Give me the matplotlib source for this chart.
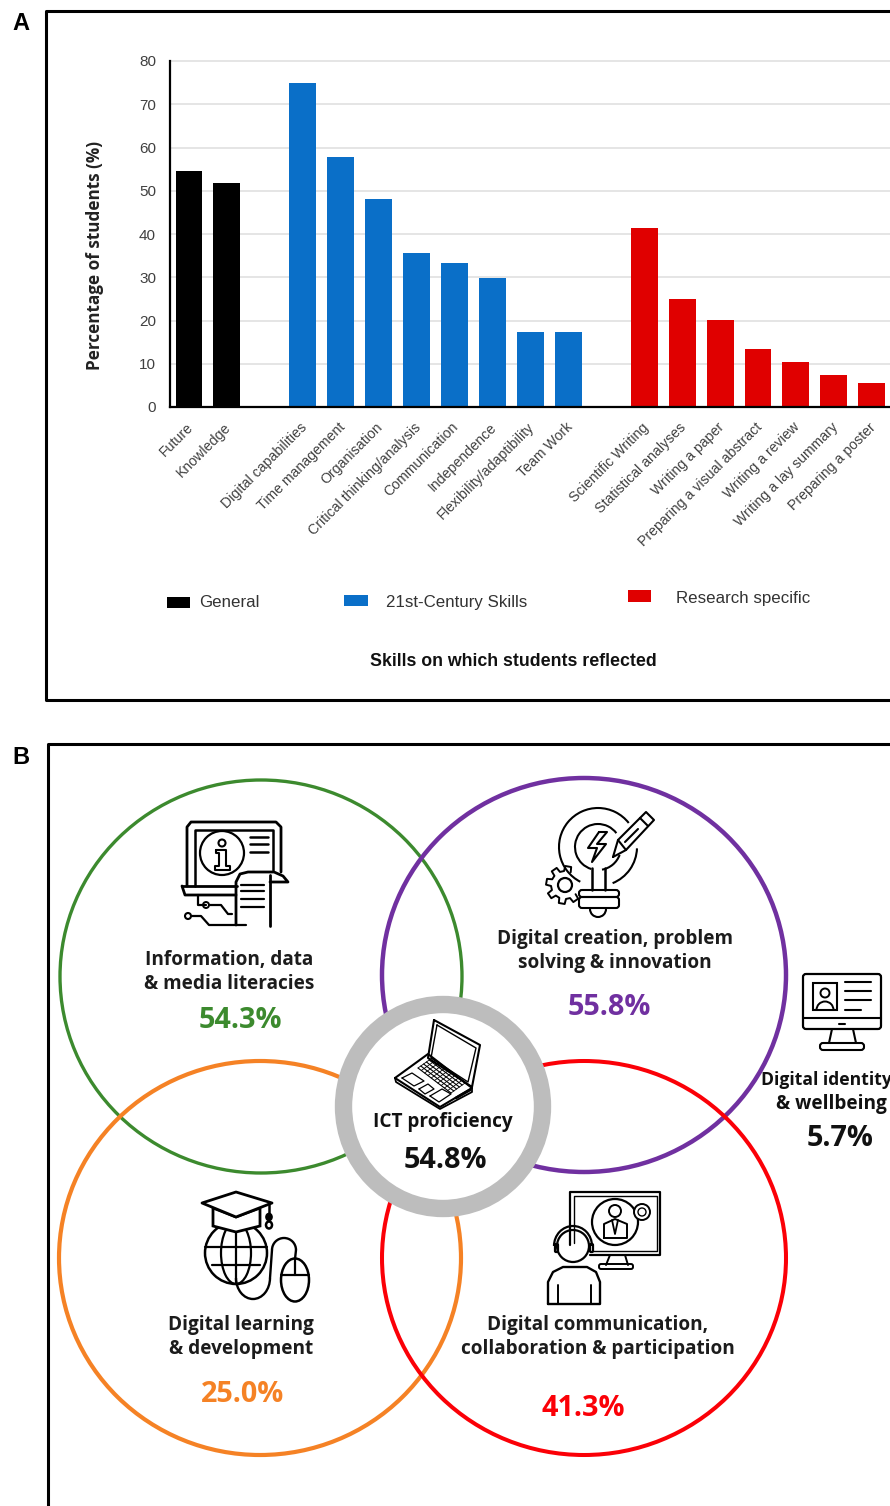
import numpy as np
import matplotlib
matplotlib.use('Agg')
import matplotlib.pyplot as plt
from matplotlib.patches import Rectangle, FancyBboxPatch, Ellipse, Arc, Polygon, Circle

general_labels = ['Future', 'Knowledge']
general_values = [54.6, 51.9]
skills_labels = ['Digital capabilities', 'Time management', 'Organisation', 'Critical thinking/analysis',
                 'Communication', 'Independence', 'Flexibility/adaptibility', 'Team Work']
skills_values = [75.0, 57.7, 48.0, 35.7, 33.4, 29.9, 17.4, 17.4]
research_labels = ['Scientific Writing', 'Statistical analyses', 'Writing a paper', 'Preparing a visual abstract',
                   'Writing a review', 'Writing a lay summary', 'Preparing a poster']
research_values = [41.3, 24.9, 20.1, 13.4, 10.3, 7.5, 5.5]
legend_names = ['General', '21st-Century Skills', 'Research specific']
bar_colors = ['#000000', '#0a6fc8', '#e00000']
y_ticks = [0, 10, 20, 30, 40, 50, 60, 70, 80]

area_titles = ['Information, data\n& media literacies', 'Digital creation, problem\nsolving & innovation',
               'Digital learning\n& development', 'Digital communication,\ncollaboration & participation']
area_pcts = ['54.3%', '55.8%', '25.0%', '41.3%']
area_colors = ['#3c8a2e', '#7030a0', '#f58225', '#fb0007']

W, H = 890, 1506
fig = plt.figure(figsize=(W / 100, H / 100), dpi=100)

# overlay in pixel coordinates for frames, legend and the venn panel
bg = fig.add_axes([0, 0, 1, 1])
bg.set_xlim(0, W)
bg.set_ylim(H, 0)
bg.axis('off')

ax = fig.add_axes([170 / W, 1 - 407 / H, (W - 170) / W, (407 - 61) / H])
ax.patch.set_alpha(0)
x_gen = np.arange(len(general_values))
x_ski = x_gen[-1] + 2 + np.arange(len(skills_values))
x_res = x_ski[-1] + 2 + np.arange(len(research_values))
ax.bar(x_gen, general_values, width=0.71, color=bar_colors[0], zorder=3)
ax.bar(x_ski, skills_values, width=0.71, color=bar_colors[1], zorder=3)
ax.bar(x_res, research_values, width=0.71, color=bar_colors[2], zorder=3)
ax.set_xlim(-0.5, 18.48)
ax.set_ylim(0, 80)
ax.set_yticks(y_ticks)
ax.tick_params(axis='y', length=0, pad=10, labelsize=11, labelcolor='#404040', labelfontfamily='Liberation Sans')
ax.set_xticks(np.concatenate([x_gen, x_ski, x_res]) + 0.05)
ax.set_xticklabels(general_labels + skills_labels + research_labels, rotation=45, ha='right', va='center',
                   rotation_mode='anchor', fontsize=10.2, color='#404040', family='Liberation Sans')
ax.tick_params(axis='x', length=0, pad=13)
ax.grid(axis='y', color='#dedede', lw=1.1, zorder=0)
for gl in ax.get_ygridlines():
    gl.set_clip_on(False)
for s in ['top', 'right']:
    ax.spines[s].set_visible(False)
for s in ['left', 'bottom']:
    ax.spines[s].set_linewidth(1.6)
    ax.spines[s].set_zorder(5)


def pl(pts, lw=1.5, color='k', closed=False):
    pts = list(pts)
    if closed:
        pts = pts + [pts[0]]
    bg.plot([p[0] for p in pts], [p[1] for p in pts], color=color, lw=lw, solid_capstyle='round',
            solid_joinstyle='round', zorder=6)


def circ(x, y, r, lw=1.5, ec='k', fc='none', z=6):
    bg.add_patch(Circle((x, y), r, ec=ec, fc=fc, lw=lw, zorder=z))


def ring(x0, x1, y0, y1, lw, ec, fc='none', z=2):
    bg.add_patch(Ellipse(((x0 + x1) / 2, (y0 + y1) / 2), x1 - x0, y1 - y0, ec=ec, fc=fc, lw=lw, zorder=z))


def rbox(x0, y0, x1, y1, rad=3, lw=1.5, fc='none'):
    bg.add_patch(FancyBboxPatch((x0, y0), x1 - x0, y1 - y0, boxstyle='round,pad=0,rounding_size=%s' % rad,
                                ec='k', fc=fc, lw=lw, zorder=6))


def arc(x, y, w, h, a0, a1, lw=1.5):
    # angles run clockwise on screen because the y axis is inverted
    bg.add_patch(Arc((x, y), w, h, theta1=a0, theta2=a1, ec='k', lw=lw, zorder=6))


# frames and panel letters
pl([(W + 5, 11), (46, 11), (46, 700), (W + 5, 700)], lw=2.2)
pl([(W + 5, 744), (48, 744), (48, H + 5)], lw=2.2)
bg.text(21, 23, 'A', fontsize=17, fontweight='bold', family='Liberation Sans', ha='center', va='center')
bg.text(21, 757, 'B', fontsize=17, fontweight='bold', family='Liberation Sans', ha='center', va='center')

# axis titles
bg.text(95, 255, 'Percentage of students (%)', rotation=90, fontsize=12.3, fontweight='bold', family='Open Sans',
        color='#222222', ha='center', va='center')
bg.text(513, 661, 'Skills on which students reflected', fontsize=12.8, fontweight='bold', family='Liberation Sans',
        color='#111111', ha='center', va='center')

# legend
leg_boxes = [(167, 597, 23, 11), (344, 595, 24, 11), (628, 590, 23, 12)]
leg_text = [(199, 602), (386, 602), (676, 598)]
for box, pos, name, col in zip(leg_boxes, leg_text, legend_names, bar_colors):
    bg.add_patch(Rectangle(box[:2], box[2], box[3], color=col, lw=0))
    bg.text(pos[0], pos[1], name, fontsize=12.2, family='Liberation Sans', color='#333333', va='center')

# venn circles, slightly squashed as in the source figure
ring(60, 462, 780, 1173, 2.4, area_colors[0])
ring(382, 786, 778, 1172, 3.2, area_colors[1])
ring(59, 461, 1061, 1455, 3.0, area_colors[2])
ring(382, 786, 1061, 1455, 2.9, area_colors[3])
ring(343.5, 542.5, 1004.5, 1208.5, 12.5, '#bdbdbd', fc='white', z=4)

font = 'Open Sans'
title_pos = [(229, 972), (615, 951), (241, 1337), (598, 1337)]
pct_pos = [(240, 1020), (609, 1007), (243, 1395), (583, 1408)]
for xy, t in zip(title_pos, area_titles):
    bg.text(xy[0], xy[1], t, fontsize=13.7, fontweight='bold', family=font, color='#1c1c1c', ha='center',
            va='center', linespacing=1.27, zorder=7)
for xy, t, c in zip(pct_pos, area_pcts, area_colors):
    bg.text(xy[0], xy[1], t, fontsize=20.8, fontweight='bold', family=font, color=c, ha='center', va='center', zorder=7)
bg.text(443, 1122, 'ICT proficiency', fontsize=13.7, fontweight='bold', family=font, color='#111111', ha='center',
        va='center', zorder=7)
bg.text(445, 1161, '54.8%', fontsize=20.8, fontweight='bold', family=font, color='#111111', ha='center',
        va='center', zorder=7)
bg.text(761, 1080, 'Digital identity', fontsize=12.6, fontweight='bold', family=font, color='#111111', ha='left',
        va='center', zorder=7)
bg.text(831, 1104, '& wellbeing', fontsize=13.7, fontweight='bold', family=font, color='#111111', ha='center',
        va='center', zorder=7)
bg.text(840, 1139, '5.7%', fontsize=20.8, fontweight='bold', family=font, color='#111111', ha='center',
        va='center', zorder=7)

# info icon
pl([(187, 886), (187, 827), (191, 822), (276, 822), (281, 827), (281, 872)], lw=2)
pl([(195, 886), (195, 830), (273, 830), (273, 870)], lw=1.8)
circ(222, 853, 22, lw=1.6)
circ(222, 843, 3.5, lw=1.5)
pl([(216, 850), (226, 850), (226, 866), (230, 866), (230, 870), (215, 870), (215, 866), (219, 866), (219, 853),
    (216, 853)], closed=True, lw=1.5)
for yy in [837, 844, 852]:
    pl([(250, yy), (268, yy)], lw=1.8)
pl([(182, 886), (237, 886)], lw=2)
pl([(182, 886), (185, 895), (236, 895)], lw=2)
pl([(236, 925), (236, 882), (240, 874), (248, 872), (274, 872), (283, 876), (288, 882), (270, 882)], lw=2)
pl([(270, 875), (270, 926)], lw=2)
for yy in [885, 891, 899, 907]:
    pl([(241, yy), (264, yy)], lw=1.6)
pl([(198, 895), (198, 905), (206, 905)], lw=1.6)
circ(206, 905, 3, lw=1.4)
pl([(210, 905), (221, 905), (228, 914), (232, 914)], lw=1.6)
circ(188, 916, 3, lw=1.5)
pl([(192, 916), (201, 916), (209, 925), (246, 925)], lw=1.6)

# bulb icon
arc(598, 847, 78, 78, 117, 322)
arc(598, 847, 78, 78, 2, 68)
arc(598, 847, 46, 46, 107, 323)
arc(598, 847, 46, 46, 20, 80)
pl([(592, 868), (592, 890)], lw=1.8)
pl([(605, 868), (605, 890)], lw=1.8)
rbox(579, 890, 619, 897, rad=3)
rbox(579, 897, 619, 908, rad=3)
arc(598, 909, 16, 16, 0, 180)
pl([(599, 832), (588, 848), (597, 848), (592, 862), (606, 844), (597, 844), (607, 832), (599, 832)], lw=1.5)
pl([(613, 857), (618, 840), (646, 812), (654, 820), (626, 850), (613, 857)], lw=1.5)
pl([(618, 840), (626, 850)])
pl([(640, 818), (648, 826)])
pl([(625, 842), (638, 829)])
circ(565, 885, 7, lw=1.6)
gear = []
for a in np.arange(55, 320, 45):
    for da, r in [(-14, 14), (-9, 19), (9, 19), (14, 14)]:
        t = np.deg2rad(a + da)
        gear.append((565 + r * np.cos(t), 885 + r * np.sin(t)))
pl(gear, lw=1.4)

# monitor icon
rbox(803, 974, 881, 1029, rad=3, lw=1.6)
pl([(803, 1018), (881, 1018)], lw=1.5)
pl([(839, 1024), (845, 1024)], lw=1.5)
bg.add_patch(Rectangle((813, 983), 24, 27, ec='k', fc='none', lw=1.5, zorder=6))
circ(825, 993, 4.5, lw=1.4)
arc(825, 1010, 17, 17, 180, 360, lw=1.4)
for yy, x1 in [(982, 871), (991, 871), (1000, 871), (1010, 861)]:
    pl([(845, yy), (x1, yy)], lw=1.5)
pl([(832, 1029), (829, 1043)])
pl([(853, 1029), (856, 1043)])
rbox(820, 1043, 864, 1050, rad=3)

# laptop icon
pl([(434, 1020), (480, 1045), (472, 1087), (428, 1058)], closed=True, lw=1.5)
pl([(437, 1025), (476, 1048), (468, 1082), (431, 1058)], closed=True, lw=1)
pl([(395, 1078), (428, 1054), (472, 1088), (440, 1107)], closed=True, lw=1.5)
pl([(395, 1078), (396, 1082), (440, 1109), (472, 1092), (472, 1088)], lw=1.3)
for f in np.linspace(0, 1, 6):
    pl([(418 + 14 * f, 1068 - 10 * f), (451 + 14 * f, 1093 - 10 * f)], lw=0.8)
for f in np.linspace(0, 1, 11):
    pl([(418 + 33 * f, 1068 + 25 * f), (432 + 33 * f, 1058 + 25 * f)], lw=0.6)
pl([(402, 1078), (412, 1073), (424, 1081), (414, 1086)], closed=True, lw=0.9)
pl([(419, 1089), (428, 1084), (434, 1089), (425, 1094)], closed=True, lw=0.9)
pl([(430, 1096), (442, 1089), (451, 1094), (439, 1102)], closed=True, lw=0.9)
pl([(456, 1098), (470, 1090)], lw=2)

# graduation and globe icon
circ(236, 1253, 31, lw=1.8)
bg.add_patch(Ellipse((236, 1253), 30, 62, ec='k', fc='none', lw=1.6, zorder=6))
pl([(236, 1222), (236, 1284)], lw=1.6)
pl([(205, 1247), (267, 1247)], lw=1.6)
pl([(212, 1265), (260, 1265)], lw=1.6)
bg.add_patch(Polygon([(213, 1208), (213, 1226), (236, 1232), (260, 1226), (260, 1208), (236, 1217)], ec='k',
                     fc='white', lw=2, zorder=6))
bg.add_patch(Polygon([(202, 1203), (236, 1192), (272, 1203), (236, 1217)], ec='k', fc='white', lw=2,
                     zorder=6, joinstyle='round'))
pl([(269, 1204), (269, 1214)], lw=1.8)
bg.add_patch(Ellipse((269, 1217), 6, 7, ec='k', fc='k', lw=1.2, zorder=6))
bg.add_patch(Ellipse((269, 1225), 6, 7, ec='k', fc='none', lw=1.8, zorder=6))
bg.add_patch(Ellipse((295, 1280), 28, 43, ec='k', fc='white', lw=1.8, zorder=6))
pl([(281, 1275), (309, 1275)], lw=1.6)
pl([(295, 1259), (295, 1275)], lw=1.6)
arc(253, 1278, 34, 42, 0, 180, lw=1.7)
pl([(270, 1278), (272, 1250)], lw=1.7)
arc(284, 1250, 24, 24, 180, 360, lw=1.7)
pl([(296, 1250), (295, 1259)], lw=1.7)

# video call icon
pl([(570, 1245), (570, 1192), (660, 1192), (660, 1255), (590, 1255)], lw=1.6)
pl([(574, 1243), (574, 1196), (657, 1196), (657, 1251), (592, 1251)], lw=1)
circ(615, 1222, 23, lw=1.6)
circ(642, 1212, 8, lw=1.4, fc='white')
circ(642, 1212, 4, lw=1)
circ(615, 1211, 6, lw=1.4)
pl([(604, 1238), (604, 1224), (615, 1219), (627, 1224), (627, 1238), (604, 1238)], lw=1.4)
pl([(612, 1220), (615, 1234), (618, 1220)], lw=1.3)
pl([(610, 1255), (606, 1265)], lw=1.4)
pl([(625, 1255), (628, 1265)], lw=1.4)
rbox(599, 1264, 633, 1269, rad=2, lw=1.4)
circ(573, 1246, 16, lw=1.6)
arc(573, 1246, 38, 40, 180, 360, lw=1.6)
rbox(555, 1244, 558, 1252, rad=1, lw=1.6)
rbox(590, 1244, 593, 1252, rad=1, lw=1.6)
pl([(548, 1304), (548, 1282), (553, 1272), (563, 1267), (587, 1267), (596, 1272), (600, 1282), (600, 1304), (548, 1304)],
   lw=1.7)
pl([(558, 1285), (558, 1304)], lw=1.4)
pl([(591, 1285), (591, 1304)], lw=1.4)

plt.savefig('out.png', dpi=100)
